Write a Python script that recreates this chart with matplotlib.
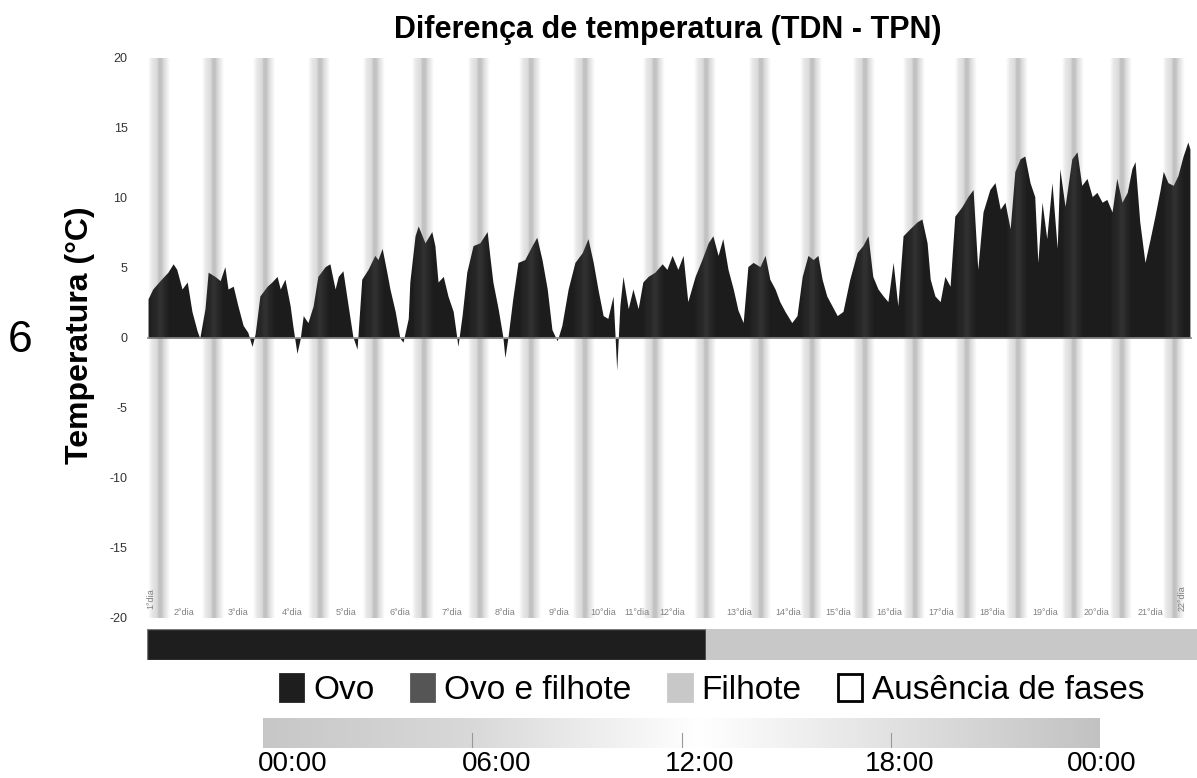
import numpy as np
import matplotlib
matplotlib.use("Agg")
import matplotlib.pyplot as plt
from matplotlib.patches import Patch

plt.rcParams["font.family"] = ["Liberation Sans", "DejaVu Sans"]
plt.rcParams["axes.unicode_minus"] = False

# time axis in days since start of record
temp_x = [0.02, 0.11, 0.25, 0.40, 0.50, 0.57, 0.67, 0.77, 0.86, 0.96, 1.01, 1.11, 1.17, 1.30,
          1.40, 1.49, 1.55, 1.65, 1.74, 1.84, 1.93, 2.01, 2.07, 2.16, 2.30, 2.39, 2.49, 2.55,
          2.64, 2.74, 2.79, 2.87, 2.93, 2.99, 3.08, 3.18, 3.27, 3.41, 3.50, 3.60, 3.66, 3.75,
          3.85, 3.94, 4.02, 4.11, 4.23, 4.36, 4.42, 4.50, 4.59, 4.65, 4.75, 4.84, 4.90, 5.00,
          5.03, 5.13, 5.19, 5.32, 5.45, 5.51, 5.57, 5.67, 5.76, 5.86, 5.93, 5.95, 6.03, 6.12,
          6.24, 6.37, 6.51, 6.56, 6.62, 6.72, 6.81, 6.85, 6.91, 7.00, 7.10, 7.23, 7.37, 7.46,
          7.56, 7.66, 7.75, 7.85, 7.94, 8.06, 8.19, 8.33, 8.44, 8.54, 8.63, 8.73, 8.82, 8.92,
          8.99, 9.05, 9.11, 9.21, 9.30, 9.40, 9.49, 9.59, 9.72, 9.86, 9.95, 10.05, 10.16,
          10.26, 10.35, 10.49, 10.62, 10.74, 10.83, 10.93, 11.02, 11.12, 11.22, 11.31, 11.41,
          11.50, 11.60, 11.73, 11.83, 11.92, 12.02, 12.11, 12.21, 12.34, 12.44, 12.54, 12.65,
          12.75, 12.84, 12.92, 13.01, 13.11, 13.21, 13.32, 13.45, 13.59, 13.70, 13.80, 13.89,
          13.99, 14.09, 14.18, 14.28, 14.37, 14.47, 14.60, 14.74, 14.83, 14.93, 14.99, 15.08,
          15.18, 15.27, 15.37, 15.46, 15.60, 15.71, 15.81, 15.90, 16.00, 16.13, 16.23, 16.33,
          16.42, 16.52, 16.61, 16.71, 16.80, 16.90, 16.99, 17.05, 17.13, 17.22, 17.32, 17.42,
          17.47, 17.57, 17.70, 17.80, 17.89, 17.99, 18.09, 18.18, 18.28, 18.37, 18.47, 18.56,
          18.66, 18.76, 18.85, 18.91, 19.00, 19.10, 19.20, 19.29, 19.39, 19.45, 19.54, 19.64,
          19.73, 19.83, 19.92, 19.96]
temp_diff = [2.8, 3.5, 4.1, 4.7, 5.3, 4.9, 3.5, 4.0, 1.9, 0.5, 0.0, 2.1, 4.7, 4.4,
             4.1, 5.1, 3.5, 3.7, 2.3, 0.9, 0.4, -0.6, 0.3, 3.0, 3.7, 4.0, 4.4, 3.5,
             4.2, 2.3, 0.9, -1.1, -0.1, 1.6, 1.1, 2.3, 4.4, 5.1, 5.3, 3.5, 4.4, 4.8,
             2.3, 0.1, -0.8, 4.2, 4.9, 5.9, 5.6, 6.4, 4.7, 3.5, 1.9, 0.0, -0.3, 1.4,
             4.0, 7.3, 8.0, 6.8, 7.6, 6.6, 4.0, 4.4, 3.0, 1.9, 0.0, -0.6, 1.6, 4.7,
             6.6, 6.8, 7.6, 5.9, 4.0, 2.1, 0.1, -1.4, 0.1, 2.8, 5.4, 5.6, 6.6, 7.2,
             5.6, 3.5, 0.6, -0.2, 0.9, 3.5, 5.4, 6.1, 7.1, 5.4, 3.5, 1.6, 1.4, 3.0,
             -2.3, 2.3, 4.4, 2.1, 3.5, 2.1, 4.0, 4.4, 4.7, 5.3, 4.9, 5.9, 4.9,
             5.9, 2.6, 4.4, 5.6, 6.8, 7.3, 5.9, 7.1, 4.9, 3.5, 2.0, 1.1,
             5.1, 5.4, 5.1, 5.9, 4.2, 3.5, 2.6, 1.9, 1.1, 1.6, 4.4, 5.9,
             5.6, 5.9, 4.2, 3.0, 2.3, 1.6, 1.9, 4.2, 6.1, 6.6, 7.3, 4.4,
             3.5, 3.0, 2.6, 5.4, 2.3, 7.3, 7.8, 8.3, 8.5, 6.8, 4.2, 3.0,
             2.6, 4.4, 3.7, 8.7, 9.4, 10.1, 10.6, 4.9, 9.0, 10.6, 11.1, 9.2,
             9.7, 7.8, 11.9, 12.8, 13.0, 11.1, 10.1, 5.4, 9.7, 7.1, 11.1, 6.4,
             12.1, 9.4, 12.8, 13.3, 10.9, 11.4, 10.1, 10.4, 9.7, 9.9, 9.0, 11.4,
             9.7, 10.4, 12.1, 12.6, 8.3, 5.4, 7.1, 8.7, 10.6, 11.9, 11.1, 10.9,
             11.6, 13.0, 14.0, 13.5]

# night stripes (midnight positions, days)
night_x = [0.25, 1.28, 2.26, 3.31, 4.36, 5.30, 6.37, 7.35, 8.38, 9.72, 10.70, 11.75,
           12.73, 13.74, 14.70, 15.69, 16.67, 17.74, 18.66, 19.67]

day_labels = ["2°dia", "3°dia", "4°dia", "5°dia", "6°dia", "7°dia", "8°dia", "9°dia",
              "10°dia", "11°dia", "12°dia", "13°dia", "14°dia", "15°dia", "16°dia",
              "17°dia", "18°dia", "19°dia", "20°dia", "21°dia"]
day_label_x = [0.71, 1.74, 2.78, 3.81, 4.84, 5.84, 6.85, 7.89, 8.73, 9.38, 10.05, 11.33,
               12.27, 13.22, 14.20, 15.20, 16.17, 17.19, 18.18, 19.20]
edge_labels = ["1°dia", "22°dia"]
edge_label_x = [0.08, 19.81]

phase_names = ["Ovo", "Filhote"]
phase_start = [0.0, 10.70]
phase_end = [10.70, 20.10]

legend_names = ["Ovo", "Ovo e filhote", "Filhote", "Ausência de fases"]
legend_colors = ["#1e1e1e", "#555555", "#c8c8c8", "white"]

clock_labels = ["00:00", "06:00", "12:00", "18:00", "00:00"]
clock_hours = [0, 6, 12, 18, 24]

W, H = 1197, 778
fig = plt.figure(figsize=(W / 100, H / 100), dpi=100)


def box(x0, y0, x1, y1):
    return [x0 / W, 1 - y1 / H, (x1 - x0) / W, (y1 - y0) / H]


px_per_day = 52.25
ax = fig.add_axes(box(147, 58, 1192, 618))
ax.set_xlim(0, 20)
ax.set_ylim(-20, 20)

ax.fill_between(temp_x, temp_diff, 0, color="#1c1c1c", lw=0, zorder=2)
ax.axhline(0, color="#8a8a8a", lw=1.2, zorder=3)

# gradient stripes drawn over the fill
xs = np.linspace(0, 20, 4000)
prof_px = np.array([-12, -8, -3, -1.5, 1.5, 3, 10])
prof_a = np.array([0.0, 0.14, 0.22, 0.36, 0.36, 0.25, 0.0])
alpha = np.zeros_like(xs)
for c in night_x:
    alpha = np.maximum(alpha, np.interp((xs - c) * px_per_day, prof_px, prof_a, left=0, right=0))
img = np.zeros((1, xs.size, 4))
img[..., :3] = 0.34
img[..., 3] = alpha
ax.imshow(img, extent=[0, 20, -20, 20], aspect="auto", interpolation="bilinear", zorder=4)

for lab, x in zip(day_labels, day_label_x):
    ax.text(x, -19.6, lab, ha="center", va="center", fontsize=6.5, color="#808080", zorder=5)
for lab, x in zip(edge_labels, edge_label_x):
    ax.text(x, -18.6, lab, ha="center", va="center", fontsize=6.5, color="#808080",
            rotation=90, zorder=5)

ax.set_yticks(range(-20, 21, 5))
ax.set_xticks([])
ax.tick_params(axis="y", length=0, pad=14, labelsize=9, labelcolor="#333333")
for s in ax.spines.values():
    s.set_visible(False)

fig.text(668 / W, 1 - 30 / H, "Diferença de temperatura (TDN - TPN)", fontsize=22,
         fontweight="bold", ha="center", va="center")
fig.text(80 / W, 1 - 335 / H, "Temperatura (°C)", fontsize=23, fontweight="bold",
         ha="center", va="center", rotation=90)
fig.text(20 / W, 1 - 340 / H, "6", fontsize=32, ha="center", va="center")

# phase bar
pax = fig.add_axes(box(147, 629, 1197, 660))
pax.set_xlim(0, 20.1)
pax.set_ylim(0, 1)
pax.barh([0.5] * 2, np.subtract(phase_end, phase_start), left=phase_start, height=1,
         color=["#1e1e1e", "#c8c8c8"], edgecolor=["#777777", "#c8c8c8"], lw=1)
pax.axis("off")

handles = [Patch(facecolor=c, edgecolor="black" if c == "white" else c, lw=2)
           for c in legend_colors]
fig.legend(handles, legend_names, loc="center", bbox_to_anchor=(712 / W, 1 - 690 / H),
           ncol=4, frameon=False, handlelength=0.7, handleheight=0.85, handletextpad=0.3,
           columnspacing=1.1, prop={"size": 24})

# clock gradient bar
cax = fig.add_axes(box(263, 718, 1100, 748))
hh = np.linspace(0, 24, 500)
shade = np.interp(hh, [0, 6, 12.5, 24], [0.78, 0.85, 1.0, 0.76])
cax.imshow(shade[None, :, None].repeat(3, axis=2), extent=[0, 24, 0, 1],
           aspect="auto", interpolation="bilinear")
for h in clock_hours[1:-1]:
    cax.plot([h, h], [0, 0.5], color="#999999", lw=0.8)
cax.set_xlim(0, 24)
cax.set_ylim(0, 1)
cax.axis("off")
label_px = [293, 497, 700, 900, 1102]
for lab, p in zip(clock_labels, label_px):
    fig.text(p / W, 1 - 771 / H, lab, ha="center", va="baseline", fontsize=20)

fig.savefig("out.png", dpi=100)
